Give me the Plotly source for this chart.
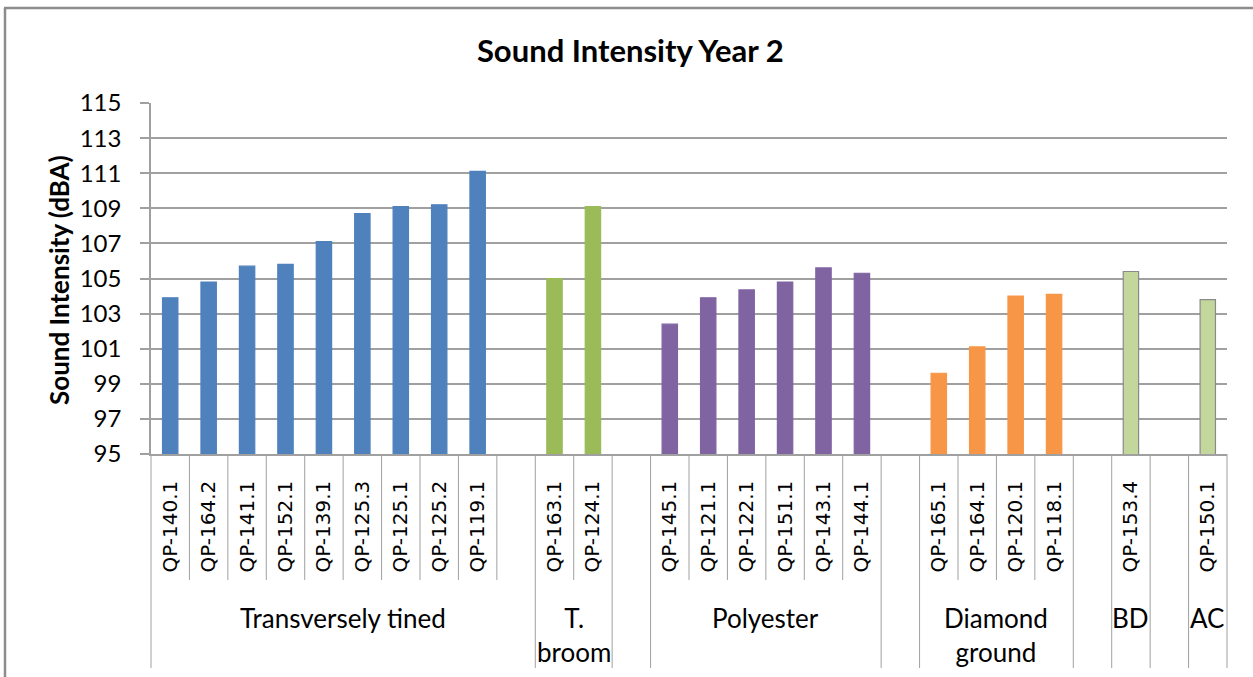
import plotly.graph_objects as go

# ---------------- data ----------------
tt_codes = ["QP-140.1", "QP-164.2", "QP-141.1", "QP-152.1", "QP-139.1",
            "QP-125.3", "QP-125.1", "QP-125.2", "QP-119.1"]
tt_values = [103.9, 104.8, 105.7, 105.8, 107.1, 108.7, 109.1, 109.2, 111.1]

broom_codes = ["QP-163.1", "QP-124.1"]
broom_values = [105.0, 109.1]

poly_codes = ["QP-145.1", "QP-121.1", "QP-122.1", "QP-151.1", "QP-143.1", "QP-144.1"]
poly_values = [102.4, 103.9, 104.35, 104.8, 105.6, 105.3]

dg_codes = ["QP-165.1", "QP-164.1", "QP-120.1", "QP-118.1"]
dg_values = [99.6, 101.1, 104.0, 104.1]

bd_codes = ["QP-153.4"]
bd_values = [105.4]

ac_codes = ["QP-150.1"]
ac_values = [103.8]

# outer category groups (blank groups are empty spacer slots)
group_labels = ["Transversely tined", "T.<br>broom", "", "Polyester", "",
                "Diamond<br>ground", "", "BD", "", "AC"]
group_sizes = [10, 2, 1, 6, 1, 4, 1, 1, 1, 1]

y_ticks = [95, 97, 99, 101, 103, 105, 107, 109, 111, 113, 115]

# ---------------- layout helpers ----------------
W, H = 1253, 677
L, R, T, B = 151, 1227, 103, 454


def px_x(p):
    return (p - L) / (R - L)


def px_y(p):
    return (B - p) / (B - T)


group_start = []
s = 0
for n in group_sizes:
    group_start.append(s)
    s += n
n_slots = s
xmin, xmax = -0.5, n_slots - 0.5


def xp(v):
    return (v - xmin) / (xmax - xmin)


series = [
    (0, tt_codes, tt_values, "#4F81BD", "#4F81BD"),
    (1, broom_codes, broom_values, "#9BBB59", "#9BBB59"),
    (3, poly_codes, poly_values, "#8064A2", "#8064A2"),
    (5, dg_codes, dg_values, "#F79646", "#F79646"),
    (7, bd_codes, bd_values, "#C3D69B", "#8A8A8A"),
    (9, ac_codes, ac_values, "#C3D69B", "#8A8A8A"),
]

fig = go.Figure()
tickvals, ticktext = [], []
for gi, codes, vals, col, edge in series:
    xs = [group_start[gi] + k for k in range(len(codes))]
    tickvals += xs
    ticktext += codes
    fig.add_trace(go.Bar(
        x=xs, y=vals, width=0.4,
        marker=dict(color=col, line=dict(color=edge, width=1.2)),
        showlegend=False, hoverinfo="x+y"))

shapes = []
line_col = "#A0A0A0"
# short dividers inside groups
for gi, n in enumerate(group_sizes):
    for k in range(1, n):
        xv = xp(group_start[gi] + k - 0.5)
        shapes.append(dict(type="line", xref="paper", yref="paper",
                           x0=xv, x1=xv, y0=0, y1=px_y(580),
                           line=dict(color=line_col, width=1)))
# full dividers at group boundaries
bounds = group_start + [n_slots]
for b in bounds:
    xv = xp(b - 0.5)
    shapes.append(dict(type="line", xref="paper", yref="paper",
                       x0=xv, x1=xv, y0=0, y1=px_y(668),
                       line=dict(color=line_col, width=1)))
# chart border (left + top)
border = "#8C8C8C"
shapes.append(dict(type="line", xref="paper", yref="paper",
                   x0=px_x(5), x1=px_x(5), y0=px_y(8), y1=px_y(700),
                   line=dict(color=border, width=2.5)))
shapes.append(dict(type="line", xref="paper", yref="paper",
                   x0=px_x(4), x1=px_x(1270), y0=px_y(8), y1=px_y(8),
                   line=dict(color=border, width=2.5)))

annotations = []
for gi, lab in enumerate(group_labels):
    if not lab:
        continue
    c = group_start[gi] + (group_sizes[gi] - 1) / 2
    annotations.append(dict(x=xp(c), y=px_y(600), xref="paper", yref="paper",
                            text=lab, showarrow=False, xanchor="center",
                            yanchor="top",
                            font=dict(family="Lato", size=26, color="#000")))
annotations.append(dict(x=px_x(59), y=px_y(280), xref="paper", yref="paper",
                        text="<b>Sound Intensity (dBA)</b>", textangle=-90,
                        showarrow=False, xanchor="center", yanchor="middle",
                        font=dict(family="Lato", size=26, color="#000")))

fig.update_layout(
    width=W, height=H,
    margin=dict(l=L, r=W - R, t=T, b=H - B, pad=0),
    paper_bgcolor="white", plot_bgcolor="white",
    barmode="overlay",
    title=dict(text="<b>Sound Intensity Year 2</b>", x=0.503, xref="container",
               xanchor="center", y=1 - 51 / H, yref="container", yanchor="middle",
               font=dict(family="Lato", size=31, color="#000")),
    xaxis=dict(range=[xmin, xmax], tickmode="array", tickvals=tickvals,
               ticktext=ticktext, tickangle=-90, showgrid=False,
               zeroline=False, showline=True, linecolor="#A0A0A0",
               linewidth=1.5, ticks="", ticklabelstandoff=17,
               tickfont=dict(family="DejaVu Sans", size=20, color="#000")),
    yaxis=dict(range=[95, 115], tickmode="array", tickvals=y_ticks,
               showgrid=True, gridcolor="#A0A0A0", gridwidth=1.5,
               zeroline=False, showline=True, linecolor="#A0A0A0",
               linewidth=1.5, ticks="outside", ticklen=9, tickcolor="#A0A0A0",
               tickwidth=1.5, ticklabelstandoff=14,
               tickfont=dict(family="Lato", size=24, color="#000")),
    shapes=shapes,
    annotations=annotations,
)

fig.write_html("out.html",
               config={"displayModeBar": False},
               post_script="document.body.style.margin='0';"
                           "document.body.style.overflow='hidden';")
